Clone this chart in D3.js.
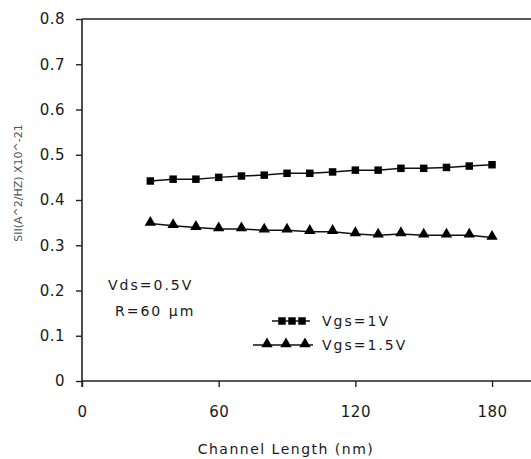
<!DOCTYPE html>
<html><head><meta charset="utf-8">
<script src="https://cdn.jsdelivr.net/npm/d3@7"></script>
<style>body{margin:0;background:#fff}svg{display:block}text{font-family:"DejaVu Sans",Arial,sans-serif}</style>
</head><body><svg id="c" width="531" height="459"></svg>
<script>
const lengths = [30,40,50,60,70,80,90,100,110,120,130,140,150,160,170,180];
const vgs1 = [0.442,0.446,0.446,0.450,0.453,0.455,0.459,0.459,0.462,0.466,0.466,0.470,0.470,0.472,0.475,0.478];
const vgs15 = [0.348,0.343,0.339,0.336,0.336,0.333,0.333,0.330,0.330,0.325,0.322,0.325,0.322,0.322,0.322,0.317];
const xTicks = [0,60,120,180];
const yTicks = [0,0.1,0.2,0.3,0.4,0.5,0.6,0.7,0.8];
const seriesNames = ["Vgs=1V","Vgs=1.5V"];

const svg = d3.select("#c");
const x = d3.scaleLinear().domain([0,200]).range([82,537.6]);
const y = d3.scaleLinear().domain([0,0.8]).range([381,19]);

// top border
svg.append("line").attr("x1",82).attr("x2",531).attr("y1",19).attr("y2",19)
  .attr("stroke","#222").attr("stroke-width",1.6);

const ya = svg.append("g").attr("transform","translate(82,0)")
  .call(d3.axisLeft(y).tickValues(yTicks).tickSize(6).tickPadding(11).tickFormat(d=>d3.format("")(+d.toFixed(1))));
const xa = svg.append("g").attr("transform","translate(0,381)")
  .call(d3.axisBottom(x).tickValues(xTicks).tickSize(6).tickPadding(19));
[ya,xa].forEach(a=>{
  a.select(".domain").attr("stroke","#222").attr("stroke-width",1.6);
  a.selectAll(".tick line").attr("stroke","#222").attr("stroke-width",1.4);
  a.selectAll("text").attr("font-size",15).attr("fill","#1a1a1a").attr("font-family","DejaVu Sans").attr("letter-spacing",0.5);
});
xa.select(".domain").attr("d","M82,0H531");
ya.select(".domain").attr("d","M0,19V381");
svg.append("line").attr("x1",82).attr("x2",82).attr("y1",381).attr("y2",387).attr("stroke","#222").attr("stroke-width",1.4);

const line = d3.line().x((d,i)=>x(lengths[i])).y(d=>y(d));
svg.append("path").datum(vgs1).attr("d",line).attr("fill","none").attr("stroke","#111").attr("stroke-width",1.5);
svg.append("path").datum(vgs15).attr("d",line).attr("fill","none").attr("stroke","#111").attr("stroke-width",1.5);

const sq = d3.symbol().type(d3.symbolSquare).size(56);
const tri = d3.symbol().type(d3.symbolTriangle).size(56);
svg.selectAll(".sq").data(vgs1).join("path").attr("class","sq")
  .attr("transform",(d,i)=>`translate(${x(lengths[i])},${y(d)})`).attr("d",sq).attr("fill","#000");
svg.selectAll(".tr").data(vgs15).join("path").attr("class","tr")
  .attr("transform",(d,i)=>`translate(${x(lengths[i])},${y(d)-1})`).attr("d",tri).attr("fill","#000");

const tstyle = s=>s.attr("font-size",14).attr("fill","#1a1a1a").attr("letter-spacing",2);
svg.append("text").attr("x",108).attr("y",290).call(tstyle).text("Vds=0.5V");
svg.append("text").attr("x",115).attr("y",316).call(tstyle).text("R=60 μm");

// legend
const lg = svg.append("g");
lg.append("line").attr("x1",272).attr("x2",310).attr("y1",321).attr("y2",321).attr("stroke","#111").attr("stroke-width",1.5);
[282,292,302].forEach(px=>lg.append("path").attr("transform",`translate(${px},321)`).attr("d",sq).attr("fill","#000"));
lg.append("text").attr("x",322).attr("y",326).call(tstyle).text(seriesNames[0]);
lg.append("line").attr("x1",253).attr("x2",313).attr("y1",345).attr("y2",345).attr("stroke","#111").attr("stroke-width",1.5);
[267,286,305].forEach(px=>lg.append("path").attr("transform",`translate(${px},344)`).attr("d",tri).attr("fill","#000"));
lg.append("text").attr("x",322).attr("y",350).call(tstyle).text(seriesNames[1]);

// axis titles
svg.append("text").attr("x",286).attr("y",454).attr("text-anchor","middle").attr("font-size",14)
  .attr("letter-spacing",1.5).attr("fill","#1a1a1a").text("Channel Length (nm)");
svg.append("text").attr("transform","translate(22,183) rotate(-90)").attr("text-anchor","middle")
  .attr("font-size",11).attr("font-family","Liberation Sans").attr("fill","#555").text("SII(A^2/HZ)  X10^-21");
</script></body></html>
